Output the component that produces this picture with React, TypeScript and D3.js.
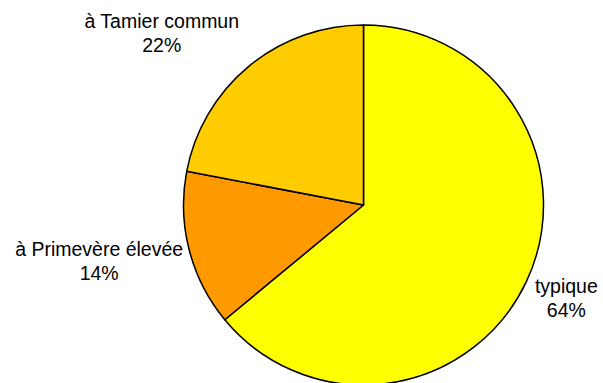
import React from "react";
import * as d3 from "d3";

const categories = ["typique", "à Primevère élevée", "à Tamier commun"];
const values = [64, 14, 22];
const percentLabels = ["64%", "14%", "22%"];

const WIDTH = 603;
const HEIGHT = 383;
const CX = 363.5;
const CY = 205;
const RADIUS = 180;
const COLORS = ["#FFFF00", "#FF9900", "#FFCC00"];
// label offsets (px) from the slice's outer-edge mid point
const LABEL_OFFSETS: [number, number][] = [
  [40, 23],
  [-90, 18],
  [-87, -26],
];
const FONT_SIZE = 19.5;
const LINE_GAP = 24;

export default function App() {
  const pie = d3
    .pie<number>()
    .sort(null)
    .value((d) => d)
    .startAngle(0)
    .endAngle(2 * Math.PI);
  const arcs = pie(values);
  const arc = d3.arc<d3.PieArcDatum<number>>().innerRadius(0).outerRadius(RADIUS);
  const edgeArc = d3
    .arc<d3.PieArcDatum<number>>()
    .innerRadius(RADIUS)
    .outerRadius(RADIUS);

  return (
    <svg
      width={WIDTH}
      height={HEIGHT}
      style={{ position: "absolute", left: 0, top: 0, background: "#fff" }}
    >
      <g transform={`translate(${CX},${CY})`}>
        {arcs.map((a, i) => (
          <path
            key={i}
            d={arc(a) || ""}
            fill={COLORS[i]}
            stroke="#000"
            strokeWidth={1.5}
            strokeLinejoin="round"
          />
        ))}
        {arcs.map((a, i) => {
          const [ex, ey] = edgeArc.centroid(a);
          const x = ex + LABEL_OFFSETS[i][0];
          const y = ey + LABEL_OFFSETS[i][1];
          return (
            <text
              key={"l" + i}
              x={x}
              y={y}
              textAnchor="middle"
              fontFamily="'Liberation Sans', Arial, sans-serif"
              fontSize={FONT_SIZE}
              fill="#000"
            >
              <tspan x={x} y={y - LINE_GAP / 2}>
                {categories[i]}
              </tspan>
              <tspan x={x} y={y + LINE_GAP / 2}>
                {percentLabels[i]}
              </tspan>
            </text>
          );
        })}
      </g>
    </svg>
  );
}
